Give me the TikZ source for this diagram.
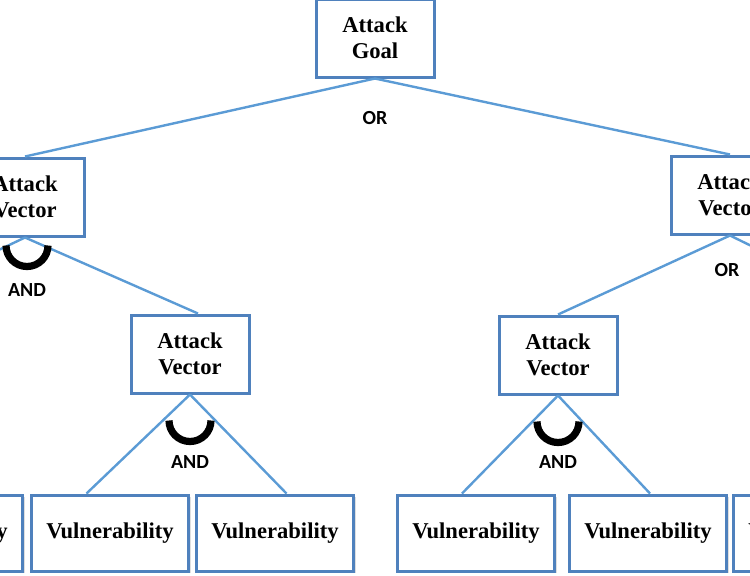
\documentclass[tikz,border=0pt]{standalone}
\usepackage{fontspec}
\setmainfont{Liberation Serif}
\newfontfamily\gatefont{Carlito}
\usetikzlibrary{shadows}
\definecolor{boxblue}{RGB}{79,129,189}
\definecolor{lineblue}{RGB}{91,155,213}

\begin{document}
\begin{tikzpicture}[x=0.5pt,y=-0.5pt]

    \tikzset{
      treebox/.style={
        draw=boxblue,
        line width=1.5pt,
        fill=white,
        align=center,
        inner sep=0pt,
        font=\fontsize{11.3}{13}\selectfont\bfseries,
        drop shadow={opacity=0.25,shadow xshift=1pt,shadow yshift=-1pt},
      },
      vector/.style={treebox, minimum width=59pt, minimum height=39pt},
      vuln/.style={treebox, minimum width=78.5pt, minimum height=38pt},
      link/.style={draw=lineblue, line width=1.2pt},
      andarc/.style={draw=black, line width=3.6pt},
      gate/.style={font=\gatefont\fontsize{10}{12}\selectfont\bfseries},
    }
    \useasboundingbox (0,0) rectangle (750,575);
    \clip (0,0) rectangle (750,575);

	% boxes
	\node[vector] (goal) at (375,38) {Attack\\Goal};
	\node[vector] (vecL) at (25,197) {Attack\\Vector};
	\node[vector] (vecR) at (730,195) {Attack\\Vector};
	\node[vector] (vecML) at (190,354) {Attack\\Vector};
	\node[vector] (vecMR) at (558,355) {Attack\\Vector};
	\node[vuln] (vuln1) at (-56,533) {Vulnerability};
	\node[vuln] (vuln2) at (110,533) {Vulnerability};
	\node[vuln] (vuln3) at (275,533) {Vulnerability};
	\node[vuln] (vuln4) at (476,533) {Vulnerability};
	\node[vuln] (vuln5) at (648,533) {Vulnerability};
	\node[vuln] (vuln6) at (812,533) {Vulnerability};
	\coordinate (offL) at (-140,316);
	\coordinate (offR) at (895,316);

	% links
	\draw[link] (goal.south) -- (vecL.north);
	\draw[link] (goal.south) -- (vecR.north);
	\draw[link] (vecL.south) -- (offL);
	\draw[link] (vecL.south) -- ([xshift=4pt]vecML.north);
	\draw[link] (vecR.south) -- (vecMR.north);
	\draw[link] (vecR.south) -- (offR);
	\draw[link] (vecML.south) -- ([xshift=-11.75pt]vuln2.north);
	\draw[link] (vecML.south) -- ([xshift=5.75pt]vuln3.north);
	\draw[link] (vecMR.south) -- ([xshift=-7pt]vuln4.north);
	\draw[link] (vecMR.south) -- ([xshift=1pt]vuln5.north);

	% gates
	\draw[andarc] ([xshift=-9.5pt,yshift=-4pt]vecL.south) arc[start angle=180,end angle=360,radius=10.5pt];
	\draw[andarc] ([xshift=-10.5pt,yshift=-13pt]vecML.south) arc[start angle=180,end angle=360,radius=10.5pt];
	\draw[andarc] ([xshift=-10.5pt,yshift=-13pt]vecMR.south) arc[start angle=180,end angle=360,radius=10.5pt];
	\node[gate] (orTop) at (375,118) {OR};
	\node[gate] (orR) at (727,270) {OR};
	\node[gate] (andL) at (27,290) {AND};
	\node[gate] (andML) at (190,462) {AND};
	\node[gate] (andMR) at (558,462) {AND};

\end{tikzpicture}
\end{document}
